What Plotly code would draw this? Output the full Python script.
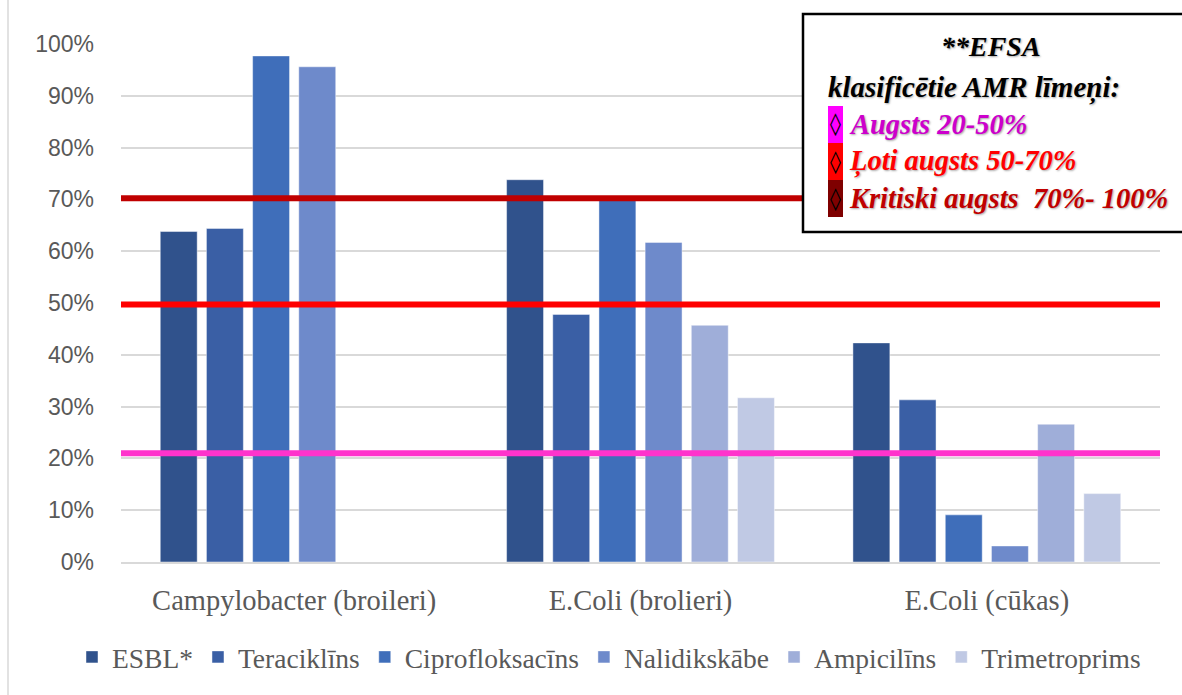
import plotly.graph_objects as go

# Categories and resistance shares (fraction of isolates)
categories = ["Campylobacter (broileri)", "E.Coli (brolieri)", "E.Coli (cūkas)"]
series_names = ["ESBL*", "Teraciklīns", "Ciprofloksacīns", "Nalidikskābe", "Ampicilīns", "Trimetroprims"]
esbl = [0.638, 0.738, 0.423]
teraciklins = [0.644, 0.478, 0.313]
ciprofloksacins = [0.977, 0.705, 0.091]
nalidikskabe = [0.956, 0.617, 0.031]
ampicilins = [None, 0.457, 0.266]
trimetroprims = [None, 0.317, 0.132]
series_values = [esbl, teraciklins, ciprofloksacins, nalidikskabe, ampicilins, trimetroprims]
series_colors = ["#30528C", "#3A5FA5", "#3F6EBA", "#6E8ACB", "#9FAED9", "#C0C9E4"]

# EFSA classification thresholds drawn across the plot
threshold_levels = [0.21, 0.497, 0.702]
threshold_colors = ["#FF33CC", "#FF0000", "#C00000"]

y_ticks = [i / 10 for i in range(11)]
y_tick_labels = [f"{i * 10}%" for i in range(11)]

# Classification box texts
box_title = ["**EFSA", "klasificētie AMR līmeņi:"]
box_items = ["Augsts 20-50%", "Ļoti augsts 50-70%", "Kritiski augsts  70%- 100%"]
box_text_colors = ["#CC00CC", "#FF0000", "#C00000"]
box_swatch_colors = ["#FF00FF", "#FF0000", "#7F0000"]

W, H = 1182, 695
L, R, T, B = 121, 22, 44, 133
PW, PH = W - L - R, H - T - B


def px_x(p):
    return (p - L) / PW


def px_y(p):
    return (H - B - p) / PH


fig = go.Figure()
for name, vals, col in zip(series_names, series_values, series_colors):
    fig.add_trace(go.Bar(
        x=categories, y=vals, name=name,
        marker=dict(color=col, line=dict(color="rgba(255,255,255,0.45)", width=1)),
    ))

shapes = []
# Chart-area left border
shapes.append(dict(type="line", xref="paper", yref="paper",
                   x0=px_x(8), x1=px_x(8), y0=px_y(0), y1=px_y(H),
                   line=dict(color="#D9D9D9", width=1.5), layer="below"))
for lvl, col in zip(threshold_levels, threshold_colors):
    shapes.append(dict(type="line", xref="paper", yref="y", x0=0, x1=1, y0=lvl, y1=lvl,
                       line=dict(color=col, width=6), layer="above"))

# Classification box
shapes.append(dict(type="rect", xref="paper", yref="paper",
                   x0=px_x(803), x1=px_x(1195), y0=px_y(14), y1=px_y(232),
                   fillcolor="white", line=dict(color="black", width=2.5), layer="above"))
swatch_tops = [106, 143, 180]
swatch_h = 37
for top, col in zip(swatch_tops, box_swatch_colors):
    shapes.append(dict(type="rect", xref="paper", yref="paper",
                       x0=px_x(828), x1=px_x(843), y0=px_y(top), y1=px_y(top + swatch_h),
                       fillcolor=col, line=dict(width=0), layer="above"))

shadow = "1px 1px 2px rgba(0,0,0,0.35)"
annotations = [
    dict(text=f"<b><i>{box_title[0]}</i></b>", xref="paper", yref="paper",
         x=px_x(991), y=px_y(47), xanchor="center", yanchor="middle", showarrow=False,
         font=dict(family="Liberation Serif", size=28, color="black", shadow=shadow)),
    dict(text=f"<b><i>{box_title[1]}</i></b>", xref="paper", yref="paper",
         x=px_x(826), y=px_y(88), xanchor="left", yanchor="middle", showarrow=False,
         font=dict(family="Liberation Serif", size=29, color="black", shadow=shadow)),
]
for top, txt, col in zip(swatch_tops, box_items, box_text_colors):
    cy = top + swatch_h / 2
    annotations.append(dict(text="◊", xref="paper", yref="paper",
                            x=px_x(835.5), y=px_y(cy), xanchor="center", yanchor="middle",
                            showarrow=False,
                            font=dict(family="DejaVu Sans", size=22, color="black")))
    annotations.append(dict(text=f"<b><i>{txt}</i></b>", xref="paper", yref="paper",
                            x=px_x(847), y=px_y(cy), xanchor="left", yanchor="middle",
                            showarrow=False,
                            font=dict(family="Liberation Serif", size=28.5, color=col, shadow=shadow)))

fig.update_layout(
    width=W, height=H,
    margin=dict(l=L, r=R, t=T, b=B, pad=0, autoexpand=False),
    paper_bgcolor="white", plot_bgcolor="white",
    barmode="group", bargap=0.2, bargroupgap=0.2,
    showlegend=True,
    legend=dict(orientation="h", x=px_x(72), xanchor="left", y=px_y(657), yanchor="middle",
                font=dict(family="Liberation Serif", size=27.5, color="#595959"),
                itemwidth=30, traceorder="normal", bgcolor="rgba(0,0,0,0)"),
    xaxis=dict(showgrid=False, showline=True, linecolor="#D9D9D9", linewidth=1.5,
               ticks="", ticklabelstandoff=12,
               tickfont=dict(family="Liberation Serif", size=28.5, color="#595959")),
    yaxis=dict(range=[0, 1], tickvals=y_ticks, ticktext=y_tick_labels,
               showgrid=True, gridcolor="#D9D9D9", gridwidth=1.5,
               zeroline=False, showline=False, ticks="", ticklabelstandoff=26,
               tickfont=dict(family="Liberation Sans", size=23, color="#595959")),
    shapes=shapes,
    annotations=annotations,
)

fig.write_html("out.html")
